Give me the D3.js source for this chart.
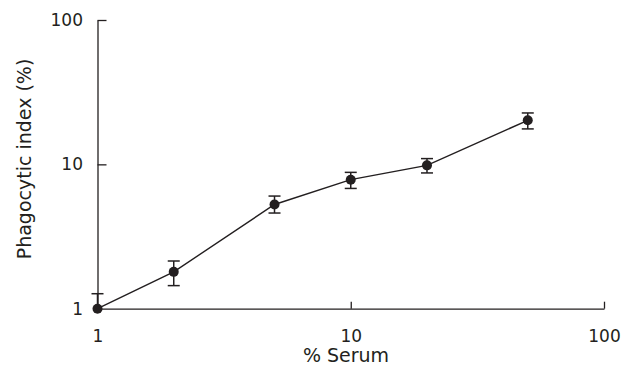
<!DOCTYPE html>
<html>
<head>
<meta charset="utf-8">
<script src="https://d3js.org/d3.v7.min.js"></script>
<title>Phagocytic index</title>
<style>
  body { margin: 0; background: #fff; }
  .axis path, .axis line { stroke: #231f20; stroke-width: 1.3px; }
  .axis text { fill: #231f20; font-family: "DejaVu Sans", sans-serif; font-size: 17px; }
  .label { fill: #231f20; font-family: "DejaVu Sans", sans-serif; font-size: 19px; }
</style>
</head>
<body>
<script>
// data
var serum = [1, 2, 5, 10, 20, 50];
var index = [1, 1.8, 5.27, 7.83, 9.84, 20.2];
var upper = [1.27, 2.14, 6.03, 8.8, 10.96, 22.7];
var lower = [null, 1.445, 4.6, 6.81, 8.72, 17.6];
var xTicks = [1, 10, 100];
var yTicks = [1, 10, 100];

var W = 637, H = 374;
var svg = d3.select("body").append("svg")
    .attr("width", W)
    .attr("height", H);

var x = d3.scaleLog().domain([1, 100]).range([97.5, 604]);
var y = d3.scaleLog().domain([1, 100]).range([308.7, 20]);

var xAxis = d3.axisBottom(x).tickValues(xTicks).tickFormat(d3.format("d"))
    .tickSizeInner(-7).tickSizeOuter(0).tickPadding(21);
var yAxis = d3.axisLeft(y).tickValues(yTicks).tickFormat(d3.format("d"))
    .tickSizeInner(-9).tickSizeOuter(0).tickPadding(14.5);

svg.append("g").attr("class", "axis")
    .attr("transform", "translate(0," + y(1) + ")")
    .call(xAxis)
    .call(function (g) { g.selectAll(".tick").filter(function (d) { return d === 1; }).select("line").remove(); });

svg.append("g").attr("class", "axis")
    .attr("transform", "translate(" + x(1) + ",0)")
    .call(yAxis)
    .call(function (g) { g.selectAll(".tick").filter(function (d) { return d === 1; }).select("line").remove(); });

svg.append("text").attr("class", "label")
    .attr("x", 346)
    .attr("y", 362)
    .attr("text-anchor", "middle")
    .text("% Serum");

svg.append("text").attr("class", "label")
    .attr("transform", "translate(31,159) rotate(-90)")
    .attr("text-anchor", "middle")
    .text("Phagocytic index (%)");

var data = serum.map(function (s, i) {
    return { x: s, y: index[i], hi: upper[i], lo: lower[i] };
});

var line = d3.line()
    .x(function (d) { return x(d.x); })
    .y(function (d) { return y(d.y); });

svg.append("path")
    .datum(data)
    .attr("d", line)
    .attr("fill", "none")
    .attr("stroke", "#231f20")
    .attr("stroke-width", 1.4);

var cap = 6;
var err = svg.append("g")
    .attr("stroke", "#231f20")
    .attr("stroke-width", 1.5);

data.forEach(function (d) {
    var lo = d.lo === null ? d.y : d.lo;
    err.append("line")
        .attr("x1", x(d.x)).attr("x2", x(d.x))
        .attr("y1", y(d.hi)).attr("y2", y(lo));
    err.append("line")
        .attr("x1", x(d.x) - cap).attr("x2", x(d.x) + cap)
        .attr("y1", y(d.hi)).attr("y2", y(d.hi));
    if (d.lo !== null) {
        err.append("line")
            .attr("x1", x(d.x) - cap).attr("x2", x(d.x) + cap)
            .attr("y1", y(d.lo)).attr("y2", y(d.lo));
    }
});

svg.append("g").selectAll("circle")
    .data(data)
    .enter().append("circle")
    .attr("cx", function (d) { return x(d.x); })
    .attr("cy", function (d) { return y(d.y); })
    .attr("r", 5)
    .attr("fill", "#231f20");
</script>
</body>
</html>
